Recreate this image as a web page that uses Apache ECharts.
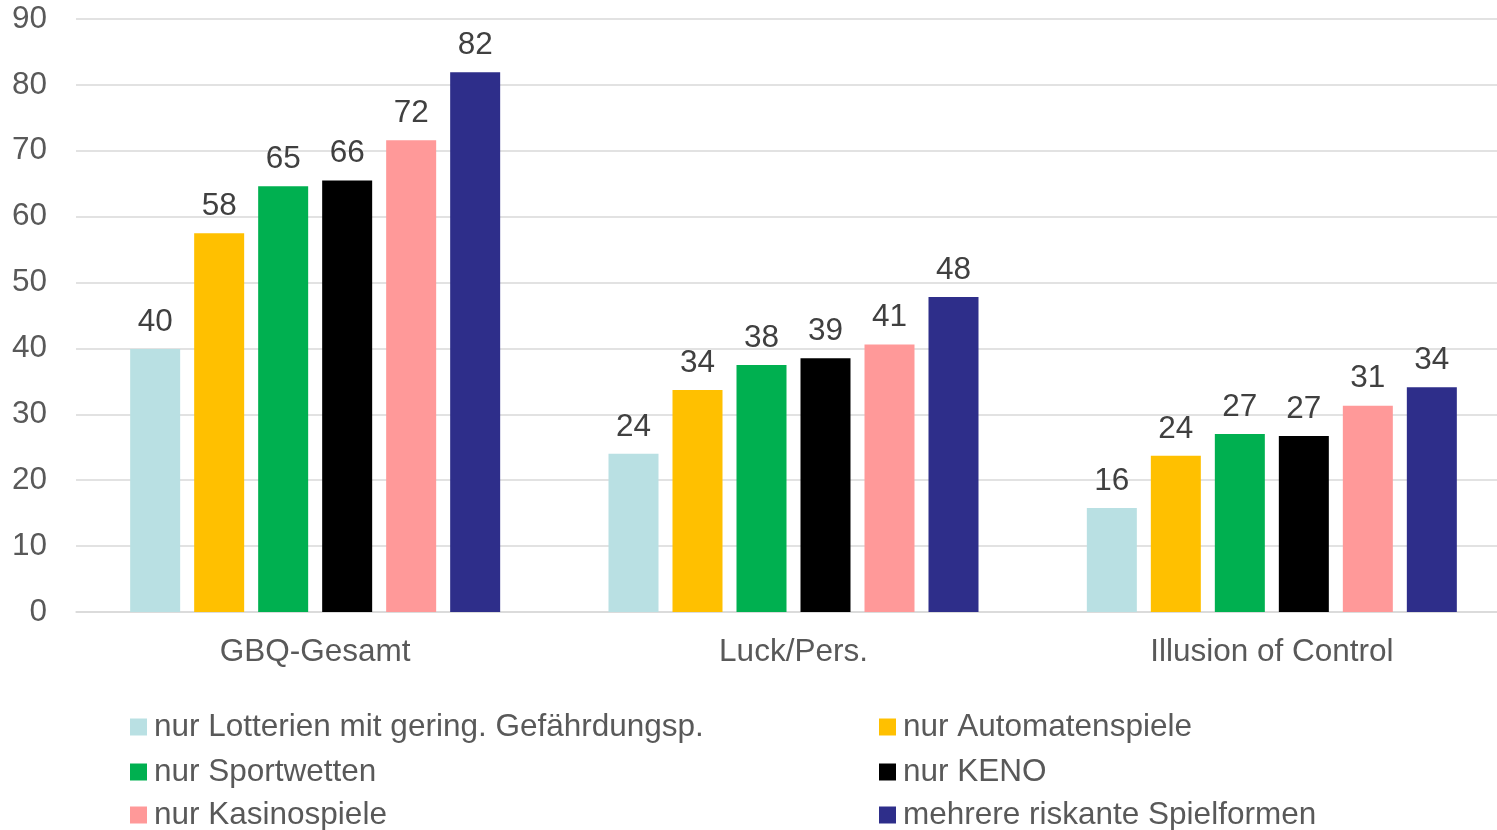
<!DOCTYPE html>
<html>
<head>
<meta charset="utf-8">
<script src="https://cdn.jsdelivr.net/npm/echarts@6/dist/echarts.min.js"></script>
<style>
  html, body { margin: 0; padding: 0; background: #fff; }
  #main { width: 1497px; height: 830px; }
</style>
</head>
<body>
<div id="main"></div>
<script>
var categories = ['GBQ-Gesamt', 'Luck/Pers.', 'Illusion of Control'];
var seriesNames = [
    'nur Lotterien mit gering. Gefährdungsp.',
    'nur Automatenspiele',
    'nur Sportwetten',
    'nur KENO',
    'nur Kasinospiele',
    'mehrere riskante Spielformen'
];
var lotterien = [39.9, 24.0, 15.8];
var automaten = [57.5, 33.7, 23.7];
var sportwetten = [64.6, 37.5, 27.0];
var keno = [65.5, 38.5, 26.7];
var kasino = [71.6, 40.6, 31.3];
var mehrere = [81.9, 47.8, 34.1];
var colors = ['#b9e0e3', '#ffc000', '#00b050', '#000000', '#ff9999', '#2e2e8a'];

var fontFamily = '"Liberation Sans", Arial, sans-serif';
var allValues = [lotterien, automaten, sportwetten, keno, kasino, mehrere];

var myChart = echarts.init(document.getElementById('main'));

var series = allValues.map(function (vals, i) {
    return {
        name: seriesNames[i],
        type: 'bar',
        data: vals,
        barWidth: 50,
        barGap: '28%',
        itemStyle: { color: colors[i] },
        label: {
            show: true,
            position: 'top',
            distance: 11,
            color: '#404040',
            fontSize: 31.5,
            fontFamily: fontFamily,
            formatter: function (p) { return Math.round(p.value); }
        }
    };
});

// one legend per entry: two columns, three rows
var legendLefts = [130, 879];
var legendTops = [711, 756, 799];
var legends = seriesNames.map(function (name, i) {
    return {
        left: legendLefts[i % 2],
        top: legendTops[Math.floor(i / 2)],
        padding: 0,
        itemWidth: 17,
        itemHeight: 17,
        icon: 'rect',
        data: [name],
        selectedMode: false,
        textStyle: { color: '#595959', fontSize: 31.5, fontFamily: fontFamily, padding: [0, 0, 0, 2] }
    };
});

var option = {
    animation: false,
    backgroundColor: '#fff',
    grid: { left: 76, width: 1435, top: 19, bottom: 218, containLabel: false, outerBoundsMode: 'none' },
    legend: legends,
    xAxis: {
        type: 'category',
        data: categories,
        axisTick: { show: false },
        axisLine: { show: true, lineStyle: { color: '#d9d9d9', width: 1.5 } },
        axisLabel: { color: '#595959', fontSize: 31.5, fontFamily: fontFamily, margin: 24 }
    },
    yAxis: {
        type: 'value',
        min: 0,
        max: 90,
        interval: 10,
        axisLine: { show: false },
        axisTick: { show: false },
        splitLine: { lineStyle: { color: '#d9d9d9', width: 1.5 } },
        axisLabel: { color: '#595959', fontSize: 31.5, fontFamily: fontFamily, margin: 29 }
    },
    series: series
};
myChart.setOption(option);
</script>
</body>
</html>
